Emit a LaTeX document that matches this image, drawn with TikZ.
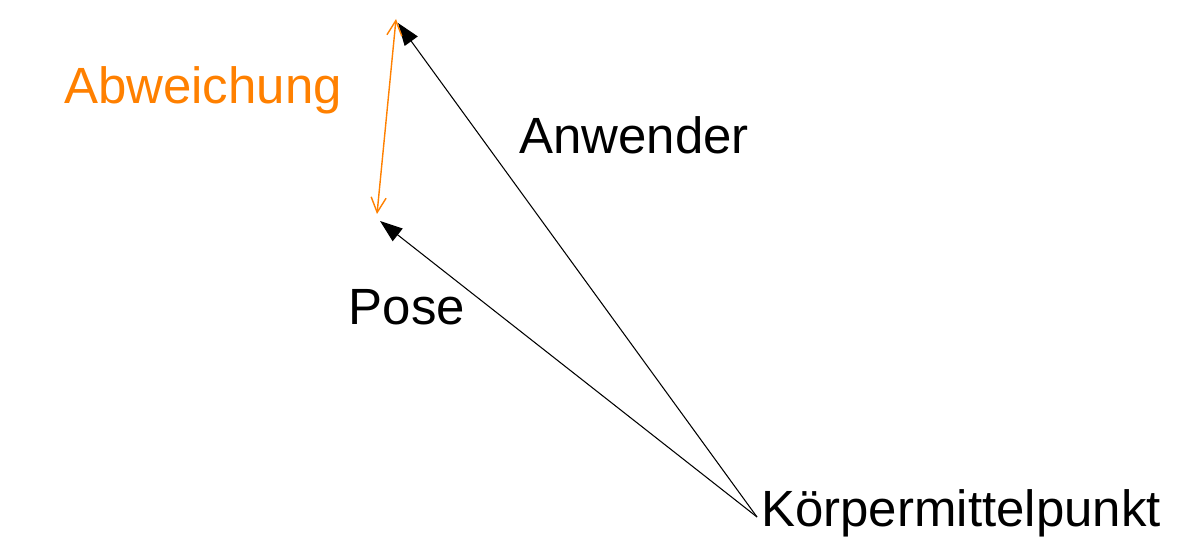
\documentclass[tikz,border=0pt]{standalone}
\usepackage{fontspec}
\setmainfont{Liberation Sans}
\usetikzlibrary{arrows.meta, positioning}
\definecolor{abworange}{RGB}{255,128,0}

\begin{document}
\begin{tikzpicture}[
        lbl/.style={inner sep=0pt, font=\fontsize{29}{34}\selectfont},
        vec/.style={-{Triangle[length=4.5mm, width=3.2mm]}, line width=0.6pt},
        dev/.style={{Straight Barb[length=3mm, width=3mm]}-{Straight Barb[length=3mm, width=3mm]}, abworange, line width=0.8pt}
    ]
        \useasboundingbox (0,0) rectangle (24.08,-10.92);
        \coordinate (C) at (15.14,-10.34);
        \coordinate (U) at (7.96,-0.46);
        \coordinate (P) at (7.60,-4.42);
        \coordinate (Pd) at (7.54,-4.28);
        \coordinate (Ud) at (7.92,-0.38);
        \node[lbl, anchor=west] (KMP) at (15.22,-10.26) {Körpermittelpunkt};
        \node[lbl] (Anw) at (12.68,-2.70) {Anwender};
        \node[lbl] (Pose) at (8.14,-6.14) {Pose};
        \node[lbl, text=abworange] (Abw) at (4.06,-1.80) {Abweichung};
        \draw[vec] (C) to (U);
        \draw[vec] (C) to (P);
        \draw[dev] (Pd) to (Ud);
    \end{tikzpicture}
\end{document}
